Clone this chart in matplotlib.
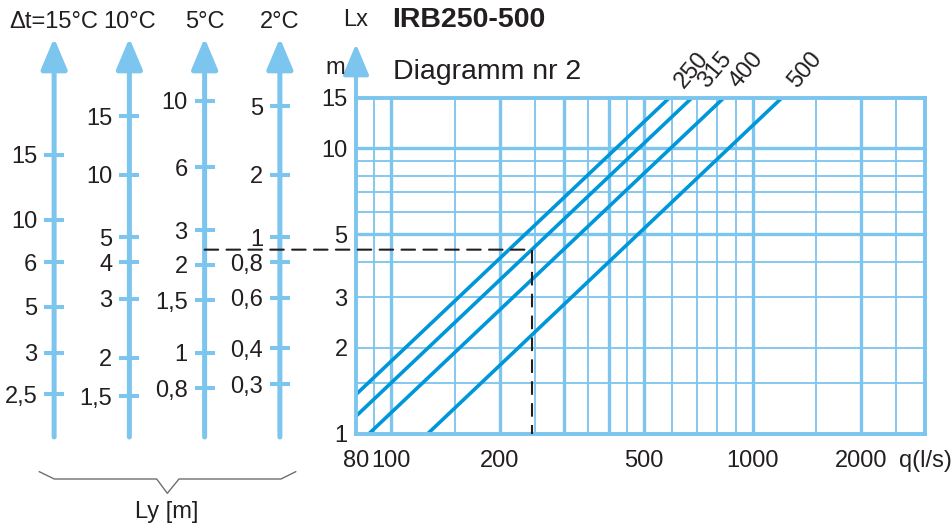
import numpy as np
import matplotlib
matplotlib.use('Agg')
import matplotlib.pyplot as plt
from matplotlib.patches import ConnectionPatch
from matplotlib.lines import Line2D
from matplotlib.ticker import NullLocator

plt.rcParams['font.family'] = ['Liberation Sans', 'DejaVu Sans']

# ---------------- data ----------------
series_names = ['250', '315', '400', '500']
q_start = [80, 80, 87, 126.5]
lx_start = [1.37, 1.15, 1.0, 1.0]
q_end = [588, 679, 832, 1204]
lx_end = [15, 15, 15, 15]

x_ticks = [80, 100, 200, 500, 1000, 2000, 3000]
x_tick_labels = ['80', '100', '200', '500', '1000', '2000', 'q(l/s)']
y_ticks = [1, 2, 3, 5, 10, 15]
y_tick_labels = ['1', '2', '3', '5', '10', '15']

x_grid_major = [100, 200, 300, 400, 500, 1000, 2000]
x_grid_minor = [90, 150, 250, 350, 450, 600, 700, 800, 900, 1500, 2500]
y_grid_major = [5, 10]
y_grid_minor = [1.5, 2, 3, 4, 6, 7, 8, 9]

dt_labels = ['\u0394t=15°C', '10°C', '5°C', '2°C']
ly_labels = [
    ['15', '10', '6', '5', '3', '2,5'],
    ['15', '10', '5', '4', '3', '2', '1,5'],
    ['10', '6', '3', '2', '1,5', '1', '0,8'],
    ['5', '2', '1', '0,8', '0,6', '0,4', '0,3'],
]
# positions of Ly ticks expressed as equivalent Lx value
ly_pos = [
    [9.49, 5.62, 3.99, 2.78, 1.92, 1.375],
    [12.92, 8.08, 4.88, 3.99, 2.97, 1.84, 1.353],
    [14.7, 8.59, 5.16, 3.91, 2.93, 1.92, 1.44],
    [14.01, 8.08, 4.88, 3.99, 2.99, 1.99, 1.486],
]

q_example = 245
example_series = '315'

# ---------------- style ----------------
GRID = '#7cc5ee'
LINE = '#0096da'
TXT = '#231f20'
FS = 17

W, H = 952, 530
fig = plt.figure(figsize=(W / 100, H / 100), dpi=100)

ax_l, ax_r, ax_t, ax_b = 356, 925, 98, 433.5
ax = fig.add_axes([ax_l / W, 1 - ax_b / H, (ax_r - ax_l) / W, (ax_b - ax_t) / H])
ax.set_xscale('log')
ax.set_yscale('log')
ax.set_xlim(80, 3000)
ax.set_ylim(1, 15)

for v in x_grid_major:
    ax.axvline(v, color=GRID, lw=2.4, zorder=1)
for v in x_grid_minor:
    ax.axvline(v, color=GRID, lw=1.3, zorder=1)
for v in y_grid_major:
    ax.axhline(v, color=GRID, lw=2.4, zorder=1)
for v in y_grid_minor:
    ax.axhline(v, color=GRID, lw=1.3, zorder=1)

for sp in ax.spines.values():
    sp.set_color(GRID)
    sp.set_linewidth(2.8)
    sp.set_zorder(3)

ax.xaxis.set_minor_locator(NullLocator())
ax.yaxis.set_minor_locator(NullLocator())
ax.set_xticks(x_ticks, x_tick_labels)
ax.set_yticks(y_ticks, y_tick_labels)
ax.tick_params(axis='both', length=0, labelsize=FS, labelcolor=TXT)
ax.tick_params(axis='x', pad=12)
ax.tick_params(axis='y', pad=6)

for name, qs, ls_, qe, le in zip(series_names, q_start, lx_start, q_end, lx_end):
    ax.plot([qs, qe], [ls_, le], color=LINE, lw=2.6, zorder=2, solid_capstyle='butt')
    ax.annotate(name, (qe, le), xytext=(23, 28), textcoords='offset pixels',
                ha='center', va='center', rotation=50, rotation_mode='anchor',
                fontsize=FS, color=TXT, annotation_clip=False)

# Lx axis arrow
ax.annotate('', xy=(0, 1 + (ax_t - 44) / (ax_b - ax_t)), xytext=(0, 1),
            xycoords='axes fraction',
            arrowprops=dict(arrowstyle='-|>,head_length=1.9,head_width=0.8',
                            mutation_scale=10, lw=2.8, color=GRID,
                            shrinkA=0, shrinkB=0))
ax.annotate('m', (0, 1), xycoords='axes fraction', xytext=(-11, 30),
            textcoords='offset pixels', ha='right', va='center',
            fontsize=FS, color=TXT)

# ---------------- left nomogram ----------------
axL = fig.add_axes([16.5 / W, 1 - ax_b / H, 301 / W, (ax_b - ax_t) / H])
axL.set_yscale('log')
axL.set_ylim(1, 15)
axL.set_xlim(0, 4)
axL.axis('off')

bot_frac = -(437 - ax_b) / (ax_b - ax_t)
tip_frac = 1 + (ax_t - 38) / (ax_b - ax_t)
for i, (lab, labs, poss) in enumerate(zip(dt_labels, ly_labels, ly_pos)):
    x = i + 0.5
    axL.annotate('', xy=(x, tip_frac), xytext=(x, bot_frac),
                 xycoords=('data', 'axes fraction'),
                 arrowprops=dict(arrowstyle='-|>,head_length=1.9,head_width=0.8',
                                 mutation_scale=10, lw=3.6, color=GRID,
                                 shrinkA=0, shrinkB=0))
    axL.plot([x] * len(poss), poss, ls='none', marker='_', ms=14.5, mew=2.9,
             color=GRID, clip_on=False)
    for t, p in zip(labs, poss):
        axL.annotate(t, (x, p), xytext=(-17, 0), textcoords='offset pixels',
                     ha='right', va='center_baseline', fontsize=FS, color=TXT,
                     annotation_clip=False)
    axL.annotate(lab, (x, 1), xycoords=('data', 'axes fraction'),
                 xytext=(0, ax_t - 20), textcoords='offset pixels',
                 ha='center', va='center_baseline', fontsize=FS, color=TXT,
                 annotation_clip=False)

# example dashed reading line
k = series_names.index(example_series)
t = (np.log(q_example) - np.log(q_start[k])) / (np.log(q_end[k]) - np.log(q_start[k]))
lx_example = np.exp(np.log(lx_start[k]) + t * (np.log(lx_end[k]) - np.log(lx_start[k])))
con = ConnectionPatch(xyA=(2.5, lx_example), coordsA=axL.transData,
                      xyB=(q_example, lx_example), coordsB=ax.transData,
                      color=TXT, lw=1.5, linestyle=(0, (6.5, 4)), zorder=5)
fig.add_artist(con)
ax.plot([q_example, q_example], [lx_example, 1], color=TXT, lw=1.5,
        linestyle=(0, (6.5, 4)), zorder=5)

# bracket under left axes
bx = [39.3, 54.3, 156.7, 167.3, 179, 281, 295.7]
by = [471.7, 479, 479, 493.3, 479, 479, 471.7]
fig.add_artist(Line2D([v / W for v in bx], [1 - v / H for v in by],
                      color='#6d6e70', lw=1.0, transform=fig.transFigure))
fig.text(167 / W, 1 - 512 / H, 'Ly [m]', ha='center', va='center',
         fontsize=FS, color=TXT)

# titles
fig.text(356 / W, 1 - 20 / H, 'Lx', ha='center', va='center', fontsize=FS, color=TXT)
fig.text(392 / W, 1 - 20 / H, 'IRB250-500', ha='left', va='center',
         fontsize=20.5, fontweight='bold', color=TXT)
fig.text(393 / W, 1 - 72 / H, 'Diagramm nr 2', ha='left', va='center',
         fontsize=20.5, color=TXT)

fig.savefig('out.png', dpi=100, facecolor='white')
